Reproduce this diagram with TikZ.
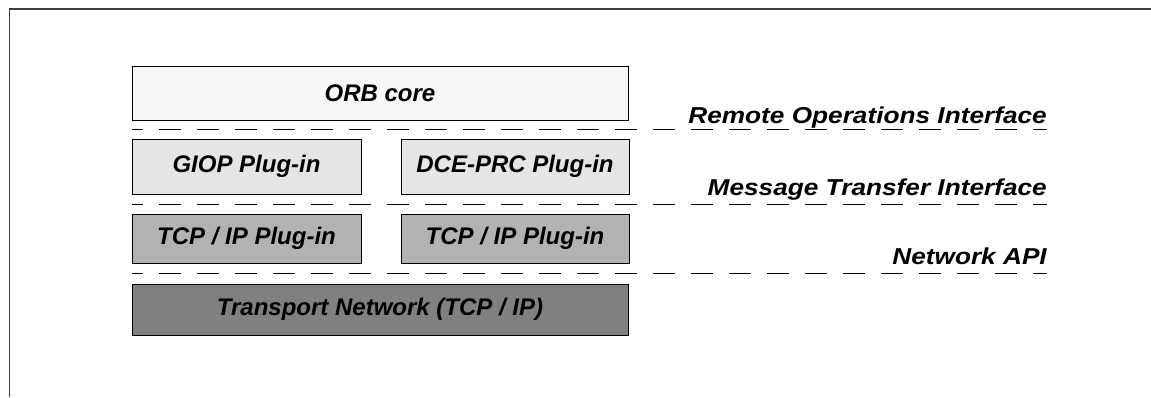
\documentclass[tikz,border=0pt]{standalone}
\usepackage{fontspec}
\setmainfont{Liberation Sans}
\newfontfamily\ifacefont[FakeStretch=1.14]{Liberation Sans}
\begin{document}
\begin{tikzpicture}[x=1pt,y=-1pt,
  layer/.style={draw=black, line width=1pt, font=\fontsize{24}{26}\selectfont\bfseries\itshape, inner sep=0pt},
  iface/.style={anchor=base east, inner sep=0pt, font=\ifacefont\fontsize{23}{26}\selectfont\bfseries\itshape},
  divider/.style={line width=1pt, dash pattern=on 22pt off 16pt, dash phase=11pt}]
\useasboundingbox (0,0) rectangle (1151,397);
% frame
\draw[line width=1.5pt, black!75] (9.5,397) -- (9.5,9) -- (1151,9);
% layers
\node[layer, fill=black!3, minimum width=496pt, minimum height=54pt] (orb) at (380,93) {ORB core};
\node[layer, fill=black!10, minimum width=229pt, minimum height=55pt] (giop) at (246.5,166.5) {GIOP Plug-in};
\node[layer, fill=black!10, minimum width=228pt, minimum height=55pt] (dce) at (515,166.5) {DCE-PRC Plug-in};
\node[layer, fill=black!30, minimum width=229pt, minimum height=49pt] (tcpa) at (246.5,238.5) {TCP / IP Plug-in};
\node[layer, fill=black!30, minimum width=228pt, minimum height=49pt] (tcpb) at (515,238.5) {TCP / IP Plug-in};
\node[layer, fill=black!50, minimum width=496pt, minimum height=51pt] (net) at (380,309.5) {Transport Network (TCP / IP)};
% interface boundaries
\coordinate (d1a) at (132,129); \coordinate (d1b) at (1047,129);
\coordinate (d2a) at (132,204); \coordinate (d2b) at (1047,204);
\coordinate (d3a) at (132,273); \coordinate (d3b) at (1047,273);
\draw[divider] (d1a) -- (d1b);
\draw[divider] (d2a) -- (d2b);
\draw[divider] (d3a) -- (d3b);
\node[iface] (roi) at (1047,123) {Remote Operations Interface};
\node[iface] (mti) at (1047,195) {Message Transfer Interface};
\node[iface] (api) at (1047,264) {Network API};
\end{tikzpicture}
\end{document}
